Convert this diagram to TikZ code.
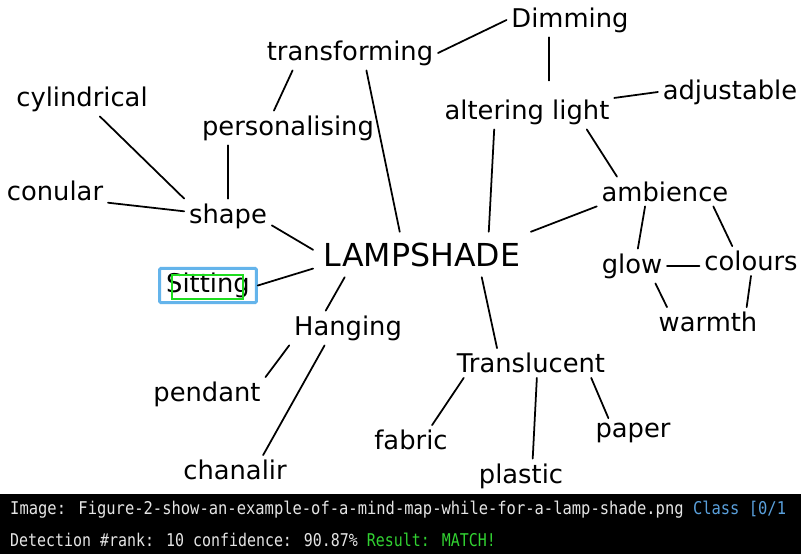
\documentclass[tikz,border=0pt]{standalone}
\usepackage{fontspec}
\setmainfont{DejaVu Sans}
\newfontfamily\handfont{DejaVu Sans}
\newfontfamily\barfontA[FakeStretch=0.88]{DejaVu Sans Mono}
\newfontfamily\barfontB[FakeStretch=0.85]{DejaVu Sans Mono}
\definecolor{detblue}{RGB}{100,180,235}
\definecolor{detgreen}{RGB}{30,220,30}
\definecolor{classblue}{RGB}{90,160,220}
\definecolor{matchgreen}{RGB}{50,210,50}

\begin{document}
\begin{tikzpicture}[x=0.03cm, y=-0.03cm,
		word/.style={font=\handfont\fontsize{22}{26}\selectfont, inner sep=4pt},
		title/.style={font=\handfont\fontsize{27}{32}\selectfont, inner sep=9pt},
		link/.style={line width=1.5pt, line cap=round},
		detbox/.style={draw=detblue, line width=2.5pt, rounded corners=1pt},
		barline/.style={anchor=base west, inner sep=0pt, text=white!90!black}]
		
		\useasboundingbox (0,0) rectangle (801,554);
		\fill[white] (0,0) rectangle (801,494);
		
		% centre and its branches
		\node[title] (lamp) at (422,254.5) {LAMPSHADE};
		\node[word] (shape) at (228,216) {shape};
		\node[word] (cyl) at (82,99) {cylindrical};
		\node[word] (conular) at (55,191) {conular};
		\node[word] (person) at (288,128) {personalising};
		\node[word] (transf) at (350,53) {transforming};
		\node[word] (dimming) at (570,20) {Dimming};
		\node[word] (alter) at (527,112) {altering light};
		\node[word] (adjust) at (730,92) {adjustable};
		\node[word] (ambience) at (665,191.5) {ambience};
		\node[word] (glow) at (632,266) {glow};
		\node[word] (colours) at (751,261) {colours};
		\node[word] (warmth) at (708,322) {warmth};
		\node[word] (transl) at (531,363) {Translucent};
		\node[word] (fabric) at (411,440) {fabric};
		\node[word] (plastic) at (521,476) {plastic};
		\node[word] (paper) at (633,433) {paper};
		\node[word] (hanging) at (348,328) {Hanging};
		\node[word] (pendant) at (207,394.5) {pendant};
		\node[word] (chanalir) at (235,470) {chanalir};
		\node[word, detbox, minimum width=2.9cm, minimum height=0.78cm] (sitting) at (208,285.5) {Sitting};
		\draw[detgreen, line width=2.5pt] (172,275) rectangle (243,299);
		
		\draw[link] (cyl) -- (shape.north west);
		\draw[link] ([yshift=-10pt]conular.east) -- ([yshift=4pt]shape.west);
		\draw[link] (shape.north) -- (shape.north |- person.south);
		\draw[link] ([xshift=-12pt]person.north) -- ([xshift=-49pt]transf.south);
		\draw[link] ([xshift=14pt]transf.south) -- ([xshift=-19pt]lamp.north);
		\draw[link] (transf.east) -- (dimming.west);
		\draw[link, shorten >=12pt] ([xshift=-18pt]dimming.south) -- ([xshift=-18pt]dimming.south |- alter.north);
		\draw[link] ([yshift=12pt]alter.east) -- (adjust.west);
		\draw[link] ([xshift=-28pt]alter.south) -- ([xshift=57pt]lamp.north);
		\draw[link] ([xshift=51pt]alter.south) -- ([xshift=-41pt]ambience.north);
		\draw[link] (lamp.north east) -- (ambience.south west);
		\draw[link] ([xshift=-17pt]ambience.south) -- ([xshift=5pt]glow.north);
		\draw[link] ([xshift=-17pt]ambience.south east) -- ([xshift=-16pt]colours.north);
		\draw[link] (glow.east) -- (glow.east -| colours.west);
		\draw[link] ([xshift=20pt]glow.south) -- ([xshift=-35pt]warmth.north);
		\draw[link] (colours.south) -- ([xshift=33pt]warmth.north);
		\draw[link] ([yshift=-8pt]shape.east) -- ([yshift=4pt]lamp.west);
		\draw[link] ([yshift=-12pt]lamp.west) -- (sitting.east);
		\draw[link] ([xshift=-66pt]lamp.south) -- ([xshift=-19pt]hanging.north);
		\draw[link] (hanging.south west) -- (pendant.north east);
		\draw[link] ([xshift=-20pt]hanging.south) -- ([xshift=24pt]chanalir.north);
		\draw[link] ([xshift=51pt]lamp.south) -- ([xshift=-29pt]transl.north);
		\draw[link] ([xshift=10pt]transl.south west) -- ([xshift=18pt]fabric.north);
		\draw[link] ([xshift=5pt]transl.south) -- ([xshift=10pt]plastic.north);
		\draw[link] ([xshift=-16pt]transl.south east) -- ([xshift=-21pt]paper.north);
		
		% caption bar
		\fill[black] (0,494) rectangle (801,554);
		\node[barline, font=\barfontA\fontsize{15}{18}\selectfont] (imgline) at (10,514)
		{Image: Figure-2-show-an-example-of-a-mind-map-while-for-a-lamp-shade.png \textcolor{classblue}{Class [0/1}};
		\node[barline, font=\barfontB\fontsize{15}{18}\selectfont] (detline) at (10,546)
		{Detection \#rank: 10 confidence: 90.87\% \textcolor{matchgreen}{Result: MATCH!}};
		
	\end{tikzpicture}
\end{document}
